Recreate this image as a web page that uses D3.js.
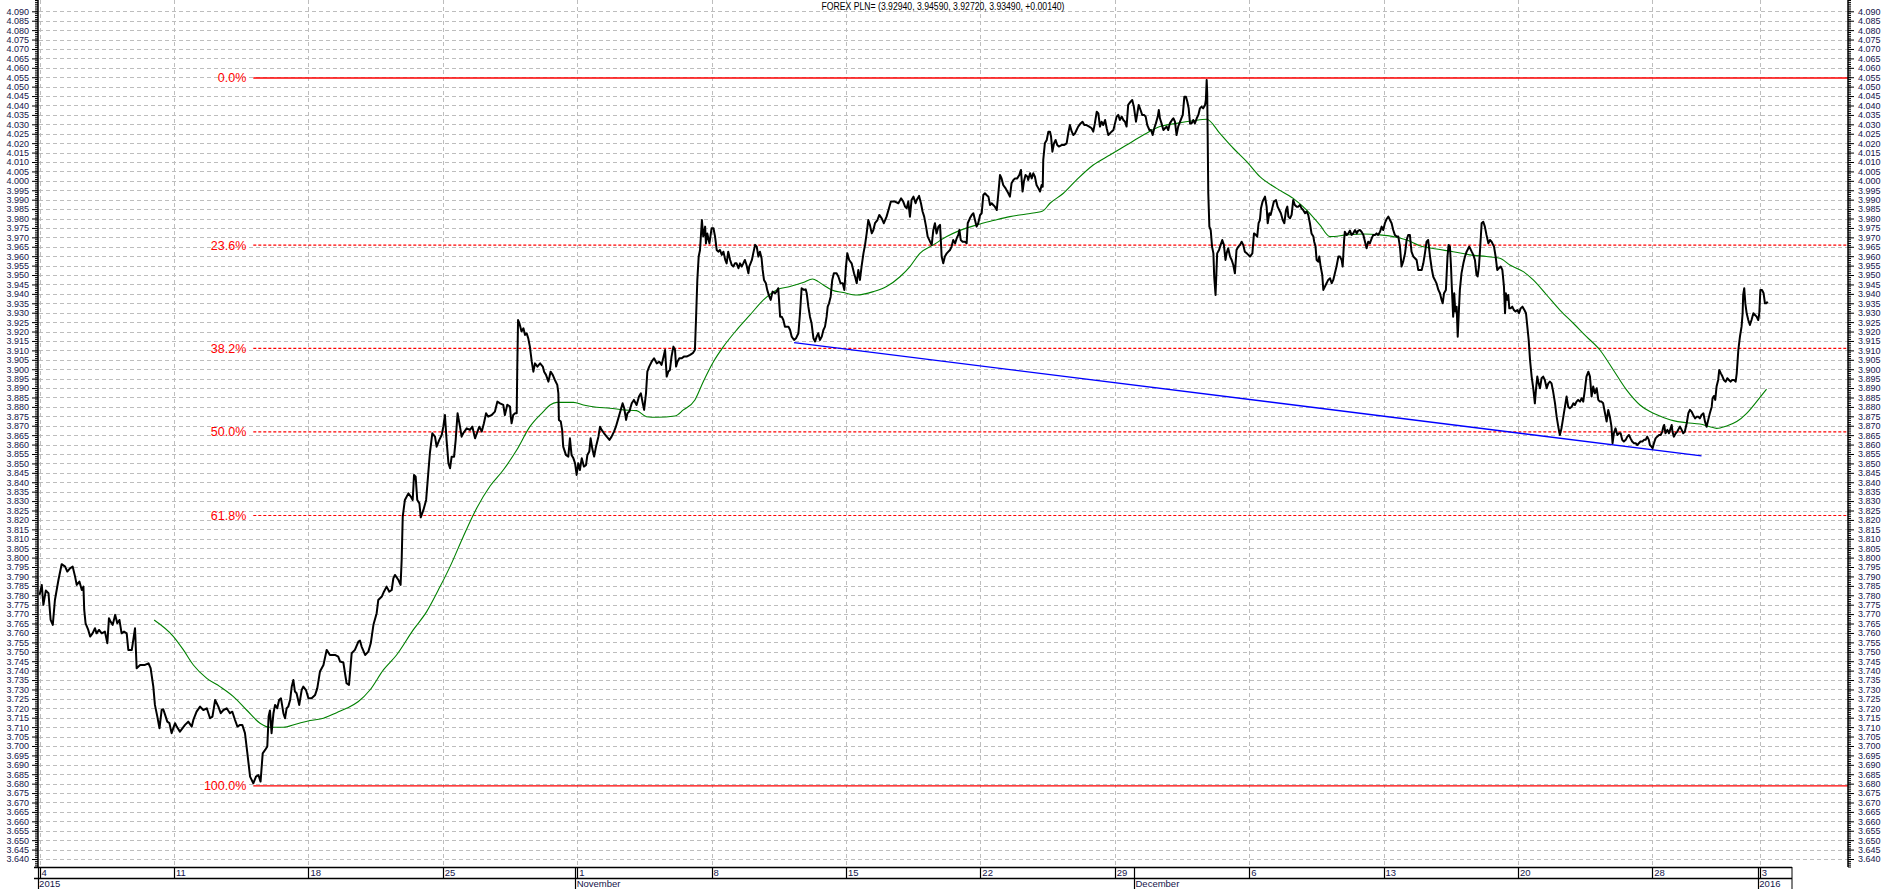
<!DOCTYPE html>
<html>
<head>
<meta charset="utf-8">
<script src="https://cdn.jsdelivr.net/npm/d3@7"></script>
<style>
  body { margin: 0; background: #fff; }
  svg { display: block; }
  text { font-family: "Liberation Sans", Arial, sans-serif; }
</style>
</head>
<body>
<svg id="chart"></svg>
<script>
var width = 1883,
    height = 889,
    plotLeft = 38,
    plotRight = 1848,
    plotBottom = 867,
    axisBoxRight = 1792;

var title = "FOREX PLN= (3.92940, 3.94590, 3.92720, 3.93490, +0.00140)";

// x unit = trading days counted from Sun 4 Oct 2015
var weekTicks = [0, 5, 10, 15, 20, 25, 30, 35, 40, 45, 50, 55, 60, 64];
var weekLabels = ["4", "11", "18", "25", "1", "8", "15", "22", "29", "6", "13", "20", "28", "3"];
var monthTicks = [0, 20, 40.79, 64];
var monthLabels = ["2015", "November", "December", "2016"];

var fibLevels = [0, 0.236, 0.382, 0.5, 0.618, 1];
var fibLabels = ["0.0%", "23.6%", "38.2%", "50.0%", "61.8%", "100.0%"];
var fibHigh = 4.0546, fibLow = 3.6788, fibStart = 7.95;

var trendLine = [[28.07, 3.9141], [61.83, 3.8540]];

var price = [
[0,3.7802],[0.08,3.7855],[0.14,3.7749],[0.23,3.7825],[0.33,3.7811],[0.41,3.7669],[0.49,3.7643],[0.57,3.7775],[0.70,3.7881],[0.82,3.7965],[0.95,3.7952],[1.03,3.7926],[1.13,3.7943],[1.23,3.7952],[1.32,3.7899],[1.38,3.7855],[1.48,3.7873],[1.57,3.7828],[1.63,3.7846],[1.66,3.7722],[1.71,3.7651],[1.81,3.7616],[1.88,3.7581],[1.97,3.7598],[2.06,3.7625],[2.12,3.7598],[2.21,3.7616],[2.31,3.7598],[2.43,3.7607],[2.52,3.7545],[2.58,3.7678],[2.64,3.7660],[2.72,3.7643],[2.81,3.7696],[2.89,3.7651],[2.97,3.7669],[3.05,3.7598],[3.14,3.7607],[3.24,3.7598],[3.30,3.7510],[3.43,3.7510],[3.55,3.7625],[3.61,3.7413],[3.74,3.7430],[3.92,3.7430],[4.05,3.7439],[4.13,3.7413],[4.23,3.7315],[4.29,3.7218],[4.38,3.7156],[4.46,3.7094],[4.54,3.7191],[4.60,3.7195],[4.67,3.7165],[4.75,3.7129],[4.83,3.7121],[4.91,3.7068],[5.04,3.7121],[5.10,3.7103],[5.22,3.7076],[5.41,3.7112],[5.53,3.7129],[5.66,3.7103],[5.72,3.7138],[5.84,3.7182],[5.97,3.7209],[6.09,3.7191],[6.22,3.7200],[6.34,3.7147],[6.43,3.7156],[6.53,3.7244],[6.65,3.7209],[6.74,3.7174],[6.84,3.7191],[6.96,3.7200],[7.08,3.7174],[7.17,3.7182],[7.27,3.7138],[7.36,3.7103],[7.46,3.7112],[7.54,3.7112],[7.64,3.7068],[7.73,3.6961],[7.83,3.6837],[7.95,3.6802],[8.05,3.6837],[8.14,3.6846],[8.22,3.6811],[8.30,3.6961],[8.39,3.6979],[8.47,3.6997],[8.52,3.7156],[8.57,3.7188],[8.63,3.7068],[8.70,3.7174],[8.76,3.7218],[8.84,3.7200],[8.91,3.7244],[8.98,3.7253],[9.07,3.7174],[9.13,3.7147],[9.19,3.7200],[9.25,3.7209],[9.32,3.7244],[9.38,3.7315],[9.44,3.7350],[9.50,3.7289],[9.56,3.7280],[9.66,3.7218],[9.75,3.7297],[9.81,3.7315],[9.91,3.7297],[10.00,3.7253],[10.12,3.7253],[10.25,3.7271],[10.33,3.7306],[10.43,3.7395],[10.56,3.7430],[10.68,3.7510],[10.80,3.7483],[10.99,3.7483],[11.11,3.7474],[11.18,3.7448],[11.30,3.7443],[11.42,3.7333],[11.51,3.7324],[11.61,3.7492],[11.73,3.7510],[11.86,3.7554],[11.92,3.7559],[11.98,3.7528],[12.11,3.7483],[12.23,3.7501],[12.32,3.7545],[12.42,3.7643],[12.54,3.7705],[12.60,3.7775],[12.73,3.7793],[12.81,3.7819],[12.91,3.7846],[13.01,3.7819],[13.10,3.7828],[13.16,3.7890],[13.22,3.7908],[13.35,3.7881],[13.43,3.7855],[13.47,3.7988],[13.51,3.8218],[13.59,3.8306],[13.72,3.8341],[13.81,3.8324],[13.88,3.8306],[13.93,3.8439],[13.99,3.8430],[14.05,3.8306],[14.13,3.8288],[14.18,3.8214],[14.28,3.8253],[14.38,3.8306],[14.46,3.8448],[14.52,3.8554],[14.61,3.8660],[14.71,3.8642],[14.77,3.8589],[14.87,3.8625],[14.96,3.8651],[15.02,3.8695],[15.08,3.8757],[15.14,3.8625],[15.21,3.8501],[15.27,3.8474],[15.33,3.8536],[15.42,3.8536],[15.48,3.8625],[15.55,3.8766],[15.64,3.8695],[15.70,3.8642],[15.76,3.8660],[15.89,3.8686],[16.01,3.8678],[16.10,3.8695],[16.20,3.8633],[16.29,3.8669],[16.36,3.8695],[16.45,3.8669],[16.53,3.8713],[16.61,3.8766],[16.69,3.8748],[16.82,3.8757],[16.94,3.8775],[17.03,3.8828],[17.13,3.8819],[17.25,3.8811],[17.31,3.8757],[17.40,3.8811],[17.50,3.8802],
[17.53,3.8748],[17.56,3.8713],[17.62,3.8757],[17.69,3.8766],[17.75,3.8766],[17.77,3.8996],[17.80,3.9261],[17.85,3.9244],[17.93,3.9200],[18.00,3.9217],[18.06,3.9182],[18.12,3.9191],[18.18,3.9164],[18.24,3.9120],[18.31,3.9040],[18.37,3.8987],[18.43,3.9031],[18.52,3.9014],[18.62,3.9031],[18.72,3.9014],[18.77,3.8987],[18.84,3.8970],[18.93,3.8934],[19.01,3.8987],[19.09,3.8970],[19.17,3.8943],[19.26,3.8917],[19.30,3.8872],[19.32,3.8731],[19.39,3.8722],[19.44,3.8678],[19.48,3.8589],[19.58,3.8545],[19.67,3.8536],[19.73,3.8633],[19.79,3.8545],[19.86,3.8527],[19.92,3.8501],[19.98,3.8439],[20.04,3.8501],[20.10,3.8465],[20.17,3.8527],[20.25,3.8483],[20.33,3.8492],[20.38,3.8545],[20.45,3.8563],[20.50,3.8633],[20.56,3.8580],[20.63,3.8536],[20.70,3.8589],[20.79,3.8642],[20.85,3.8695],[20.91,3.8678],[21.00,3.8660],[21.10,3.8642],[21.20,3.8625],[21.28,3.8642],[21.37,3.8669],[21.44,3.8695],[21.53,3.8739],[21.62,3.8784],[21.69,3.8819],[21.75,3.8793],[21.82,3.8731],[21.87,3.8766],[21.94,3.8775],[22.03,3.8819],[22.11,3.8837],[22.21,3.8810],[22.30,3.8855],[22.37,3.8872],[22.44,3.8819],[22.49,3.8784],[22.56,3.8872],[22.61,3.8987],[22.68,3.9014],[22.77,3.9040],[22.86,3.9058],[22.96,3.9031],[23.06,3.9040],[23.14,3.9023],[23.20,3.9058],[23.27,3.9102],[23.33,3.8961],[23.39,3.8987],[23.45,3.8996],[23.51,3.9067],[23.58,3.9120],[23.64,3.9102],[23.68,3.9014],[23.73,3.9040],[23.80,3.9058],[23.89,3.9058],[23.97,3.9067],[24.07,3.9067],[24.20,3.9076],[24.30,3.9085],[24.38,3.9102],[24.42,3.9261],[24.47,3.9474],[24.52,3.9598],[24.57,3.9633],[24.64,3.9792],[24.69,3.9704],[24.76,3.9757],[24.79,3.9668],[24.84,3.9721],[24.92,3.9668],[25.00,3.9748],[25.07,3.9748],[25.13,3.9704],[25.19,3.9633],[25.25,3.9624],[25.31,3.9633],[25.38,3.9607],[25.44,3.9624],[25.51,3.9580],[25.56,3.9562],[25.62,3.9624],[25.69,3.9580],[25.75,3.9553],[25.81,3.9545],[25.87,3.9562],[25.93,3.9562],[26.00,3.9536],[26.06,3.9562],[26.12,3.9545],[26.18,3.9562],[26.24,3.9580],[26.30,3.9553],[26.37,3.9509],[26.40,3.9545],[26.45,3.9562],[26.50,3.9580],[26.55,3.9615],[26.62,3.9660],[26.68,3.9651],[26.74,3.9598],[26.80,3.9624],[26.86,3.9589],[26.90,3.9527],[26.95,3.9474],[27.02,3.9456],[27.07,3.9421],[27.15,3.9385],[27.20,3.9368],[27.27,3.9412],[27.36,3.9403],[27.42,3.9412],[27.48,3.9430],[27.55,3.9279],[27.61,3.9279],[27.67,3.9261],[27.73,3.9226],[27.86,3.9226],[27.92,3.9208],[27.98,3.9173],[28.07,3.9155],[28.14,3.9164],[28.23,3.9191],[28.29,3.9297],[28.35,3.9430],[28.44,3.9421],[28.50,3.9424],[28.54,3.9403],[28.60,3.9332],[28.66,3.9279],[28.72,3.9244],[28.79,3.9164],[28.85,3.9147],[28.91,3.9173],[28.97,3.9191],[29.03,3.9155],[29.10,3.9173],[29.16,3.9208],[29.22,3.9226],[29.28,3.9279],[29.32,3.9332],[29.37,3.9350],[29.43,3.9385],[29.49,3.9474],[29.55,3.9509],[29.65,3.9509],[29.72,3.9491],[29.80,3.9456],[29.88,3.9456],[29.94,3.9421],[30.00,3.9545],[30.05,3.9615],[30.12,3.9580],[30.21,3.9562],[30.30,3.9509],[30.34,3.9491],[30.40,3.9456],[30.46,3.9527],[30.52,3.9474],[30.58,3.9545],[30.65,3.9615],[30.71,3.9660],[30.77,3.9721],[30.83,3.9792],[30.89,3.9766],[30.96,3.9721],[31.02,3.9739],[31.08,3.9775],[31.17,3.9792],[31.24,3.9819],[31.33,3.9801],[31.41,3.9775],[31.51,3.9810],[31.60,3.9854],[31.67,3.9890],[31.82,3.9890],[31.95,3.9881],[32.05,3.9907],[32.13,3.9890],[32.20,3.9863],[32.26,3.9854],[32.32,3.9890],[32.38,3.9810],[32.44,3.9898],[32.51,3.9916],[32.59,3.9881],[32.63,3.9898],[32.72,3.9920],[32.79,3.9881],[32.85,3.9837],[32.91,3.9810],[32.98,3.9757],[33.04,3.9704],[33.13,3.9677],[33.19,3.9660],[33.25,3.9739],[33.31,3.9775],[33.37,3.9721],[33.44,3.9757],[33.50,3.9766],[33.56,3.9598],[33.62,3.9562],[33.68,3.9598],[33.75,3.9615],[33.81,3.9624],[33.87,3.9633],[33.93,3.9651],[33.99,3.9686],[34.06,3.9668],[34.12,3.9695],[34.18,3.9713],[34.22,3.9739],[34.27,3.9686],[34.34,3.9677],[34.43,3.9677],[34.49,3.9668],[34.53,3.9775],[34.61,3.9801],
[34.68,3.9819],[34.74,3.9828],[34.80,3.9792],[34.86,3.9757],[34.92,3.9775],[34.99,3.9819],[35.05,3.9828],[35.11,3.9925],[35.17,3.9934],[35.23,3.9925],[35.30,3.9916],[35.36,3.9872],[35.42,3.9881],[35.48,3.9872],[35.54,3.9863],[35.61,3.9845],[35.67,3.9934],[35.73,4.0031],[35.79,4.0013],[35.85,3.9978],[35.94,3.9960],[36.04,3.9934],[36.10,3.9916],[36.16,3.9987],[36.23,4.0005],[36.29,4.0013],[36.37,4.0013],[36.45,4.0031],[36.51,4.0058],[36.57,3.9943],[36.62,3.9996],[36.68,4.0031],[36.75,4.0022],[36.78,4.0005],[36.85,4.0040],[36.91,4.0013],[36.97,4.0040],[37.03,4.0022],[37.09,3.9978],[37.16,3.9960],[37.22,3.9943],[37.28,3.9978],[37.32,3.9969],[37.34,4.0111],[37.40,4.0199],[37.47,4.0217],[37.53,4.0261],[37.59,4.0261],[37.63,4.0235],[37.68,4.0155],[37.74,4.0199],[37.80,4.0217],[37.86,4.0190],[37.92,4.0182],[38.02,4.0190],[38.11,4.0190],[38.21,4.0199],[38.27,4.0252],[38.33,4.0296],[38.40,4.0261],[38.46,4.0243],[38.52,4.0252],[38.58,4.0270],[38.64,4.0288],[38.73,4.0305],[38.80,4.0314],[38.87,4.0296],[38.95,4.0296],[39.05,4.0288],[39.14,4.0279],[39.20,4.0261],[39.26,4.0305],[39.33,4.0367],[39.39,4.0358],[39.45,4.0288],[39.51,4.0314],[39.57,4.0296],[39.64,4.0323],[39.70,4.0279],[39.76,4.0243],[39.82,4.0252],[39.88,4.0261],[39.95,4.0270],[40.01,4.0305],[40.07,4.0341],[40.13,4.0350],[40.19,4.0323],[40.26,4.0341],[40.32,4.0323],[40.38,4.0314],[40.44,4.0288],[40.50,4.0403],[40.59,4.0420],[40.65,4.0429],[40.71,4.0394],[40.79,4.0314],[40.84,4.0358],[40.89,4.0403],[40.96,4.0376],[41.02,4.0350],[41.09,4.0350],[41.15,4.0341],[41.21,4.0296],[41.29,4.0270],[41.35,4.0270],[41.41,4.0243],[41.47,4.0279],[41.53,4.0305],[41.60,4.0341],[41.64,4.0376],[41.68,4.0332],[41.74,4.0305],[41.81,4.0270],[41.87,4.0279],[41.93,4.0288],[41.99,4.0270],[42.05,4.0305],[42.13,4.0323],[42.18,4.0332],[42.24,4.0314],[42.30,4.0243],[42.36,4.0288],[42.43,4.0314],[42.53,4.0350],[42.59,4.0447],[42.65,4.0447],[42.70,4.0420],[42.75,4.0385],[42.80,4.0305],[42.86,4.0305],[42.92,4.0323],[42.98,4.0305],[43.05,4.0332],[43.11,4.0350],[43.17,4.0385],[43.23,4.0394],[43.29,4.0385],[43.36,4.0403],[43.39,4.0429],[43.42,4.0535],[43.44,4.0465],[43.48,3.9934],[43.52,3.9757],[43.57,3.9739],[43.62,3.9651],[43.67,3.9615],[43.70,3.9491],[43.75,3.9394],[43.81,3.9615],[43.88,3.9633],[43.94,3.9660],[44.00,3.9686],[44.06,3.9660],[44.12,3.9580],[44.16,3.9615],[44.22,3.9642],[44.29,3.9598],[44.35,3.9580],[44.41,3.9553],[44.47,3.9509],[44.53,3.9633],[44.60,3.9651],[44.66,3.9660],[44.72,3.9677],[44.78,3.9660],[44.84,3.9624],[44.91,3.9615],[44.97,3.9607],[45.03,3.9598],[45.12,3.9615],[45.18,3.9721],[45.25,3.9713],[45.30,3.9704],[45.35,3.9775],[45.40,3.9792],[45.44,3.9854],[45.50,3.9890],[45.59,3.9916],[45.65,3.9863],[45.69,3.9775],[45.75,3.9828],[45.80,3.9819],[45.86,3.9854],[45.92,3.9890],[46.00,3.9898],[46.06,3.9863],[46.12,3.9845],[46.18,3.9828],[46.25,3.9792],[46.31,3.9775],[46.37,3.9845],[46.42,3.9863],[46.46,3.9810],[46.52,3.9801],[46.58,3.9819],[46.64,3.9898],[46.70,3.9872],[46.77,3.9863],[46.83,3.9863],[46.89,3.9872],[46.95,3.9854],[47.01,3.9845],[47.08,3.9828],[47.14,3.9837],[47.20,3.9819],[47.26,3.9775],[47.32,3.9721],[47.39,3.9704],[47.42,3.9677],[47.47,3.9651],[47.51,3.9580],[47.57,3.9571],[47.61,3.9598],[47.66,3.9545],[47.72,3.9500],[47.76,3.9421],[47.82,3.9439],[47.88,3.9456],[47.94,3.9474],[48.01,3.9483],[48.07,3.9456],[48.13,3.9474],[48.19,3.9509],[48.25,3.9545],[48.32,3.9598],[48.38,3.9598],[48.44,3.9580],[48.48,3.9545],[48.53,3.9677],[48.56,3.9730],[48.63,3.9713],[48.69,3.9721],[48.75,3.9736],[48.81,3.9713],[48.87,3.9721],[48.94,3.9739],[49.00,3.9721],[49.06,3.9736],[49.12,3.9739],[49.18,3.9730],[49.25,3.9713],[49.31,3.9677],[49.37,3.9642],[49.43,3.9677],[49.49,3.9668],[49.56,3.9695],[49.62,3.9713],[49.68,3.9713],[49.74,3.9721],[49.80,3.9713],[49.87,3.9730],[49.93,3.9757],[49.99,3.9739],[50.05,3.9775],[50.11,3.9796],[50.18,3.9810],[50.24,3.9792],[50.30,3.9775],[50.36,3.9739],[50.42,3.9713],[50.49,3.9704],[50.55,3.9704],[50.61,3.9651],[50.67,3.9545],[50.73,3.9571],[50.80,3.9615],[50.86,3.9686],[50.92,3.9713],[50.98,3.9713],[51.04,3.9624],[51.11,3.9598],[51.17,3.9589],[51.23,3.9580],[51.29,3.9527],[51.42,3.9527],[51.48,3.9562],[51.54,3.9615],[51.60,3.9677],[51.66,3.9686],[51.73,3.9598],[51.79,3.9536],[51.85,3.9491],[51.91,3.9474],[51.97,3.9456],[52.04,3.9421],[52.10,3.9403],
[52.16,3.9368],[52.20,3.9350],[52.25,3.9403],[52.32,3.9421],[52.38,3.9598],[52.42,3.9660],[52.47,3.9651],[52.51,3.9545],[52.54,3.9438],[52.59,3.9279],[52.63,3.9403],[52.67,3.9306],[52.72,3.9332],[52.76,3.9173],[52.81,3.9332],[52.84,3.9421],[52.90,3.9509],[52.97,3.9562],[53.03,3.9598],[53.09,3.9624],[53.19,3.9651],[53.28,3.9624],[53.34,3.9607],[53.40,3.9580],[53.46,3.9500],[53.50,3.9492],[53.55,3.9545],[53.59,3.9633],[53.65,3.9775],[53.71,3.9783],[53.77,3.9757],[53.83,3.9713],[53.90,3.9668],[53.96,3.9686],[54.02,3.9677],[54.11,3.9651],[54.17,3.9598],[54.23,3.9527],[54.29,3.9536],[54.36,3.9545],[54.42,3.9527],[54.48,3.9438],[54.52,3.9297],[54.55,3.9403],[54.60,3.9368],[54.64,3.9394],[54.68,3.9323],[54.73,3.9323],[54.79,3.9332],[54.85,3.9314],[54.91,3.9306],[54.98,3.9314],[55.04,3.9297],[55.10,3.9323],[55.17,3.9332],[55.24,3.9314],[55.30,3.9297],[55.35,3.9226],[55.40,3.9155],[55.45,3.9049],[55.51,3.8961],[55.57,3.8899],[55.63,3.8819],[55.67,3.8890],[55.72,3.8961],[55.77,3.8925],[55.82,3.8899],[55.88,3.8952],[55.94,3.8961],[56.00,3.8943],[56.07,3.8899],[56.13,3.8925],[56.19,3.8934],[56.25,3.8925],[56.31,3.8881],[56.38,3.8819],[56.44,3.8748],[56.50,3.8695],[56.56,3.8651],[56.62,3.8686],[56.69,3.8748],[56.75,3.8801],[56.81,3.8855],[56.87,3.8801],[56.93,3.8793],[57.00,3.8801],[57.06,3.8819],[57.12,3.8810],[57.18,3.8828],[57.24,3.8837],[57.31,3.8828],[57.37,3.8846],[57.43,3.8828],[57.49,3.8890],[57.55,3.8961],[57.62,3.8987],[57.68,3.8961],[57.74,3.8855],[57.80,3.8908],[57.86,3.8872],[57.93,3.8899],[57.99,3.8837],[58.05,3.8828],[58.11,3.8828],[58.17,3.8819],[58.24,3.8766],[58.30,3.8722],[58.36,3.8784],[58.42,3.8748],[58.48,3.8695],[58.52,3.8607],[58.57,3.8660],[58.63,3.8686],[58.70,3.8651],[58.76,3.8660],[58.82,3.8660],[58.88,3.8625],[58.94,3.8616],[59.01,3.8625],[59.07,3.8642],[59.13,3.8651],[59.19,3.8633],[59.25,3.8616],[59.32,3.8607],[59.38,3.8607],[59.44,3.8598],[59.50,3.8607],[59.56,3.8616],[59.63,3.8616],[59.69,3.8625],[59.75,3.8625],[59.81,3.8642],[59.87,3.8625],[59.91,3.8598],[59.97,3.8589],[60.01,3.8580],[60.06,3.8607],[60.12,3.8633],[60.18,3.8642],[60.25,3.8651],[60.31,3.8651],[60.37,3.8669],[60.41,3.8695],[60.44,3.8704],[60.49,3.8660],[60.56,3.8678],[60.62,3.8660],[60.68,3.8686],[60.72,3.8704],[60.75,3.8669],[60.80,3.8642],[60.87,3.8660],[60.93,3.8669],[60.99,3.8686],[61.03,3.8695],[61.09,3.8678],[61.15,3.8660],[61.21,3.8669],[61.28,3.8713],[61.34,3.8766],[61.40,3.8784],[61.46,3.8775],[61.52,3.8757],[61.59,3.8739],[61.65,3.8748],[61.71,3.8748],[61.77,3.8739],[61.83,3.8757],[61.90,3.8766],[61.96,3.8722],[62.02,3.8695],[62.08,3.8731],[62.14,3.8766],[62.21,3.8801],[62.24,3.8846],[62.29,3.8858],[62.34,3.8837],[62.39,3.8908],[62.45,3.8943],[62.49,3.8996],[62.55,3.8978],[62.61,3.8961],[62.66,3.8943],[62.73,3.8934],[62.79,3.8952],[62.85,3.8943],[62.91,3.8934],[62.97,3.8943],[63.04,3.8943],[63.10,3.8934],[63.14,3.8978],[63.20,3.9102],[63.26,3.9173],[63.32,3.9226],[63.36,3.9297],[63.38,3.9394],[63.42,3.9430],[63.46,3.9350],[63.51,3.9297],[63.57,3.9261],[63.63,3.9235],[63.69,3.9261],[63.76,3.9297],[63.82,3.9288],[63.88,3.9279],[63.94,3.9261],[63.98,3.9297],[64.02,3.9421],[64.08,3.9421],[64.14,3.9403],[64.19,3.9350],[64.25,3.9350],[64.29,3.9359]
];

var movingAvg = [
[4.26,3.7669],[4.98,3.7581],[5.35,3.7510],[5.72,3.7430],[6.22,3.7359],[6.71,3.7315],[7.21,3.7262],[7.70,3.7191],[8.20,3.7121],[8.57,3.7099],[9.07,3.7099],[9.56,3.7117],[10.06,3.7135],[10.56,3.7147],[11.05,3.7177],[11.42,3.7200],[11.86,3.7236],[12.29,3.7297],[12.79,3.7404],[13.28,3.7483],[13.90,3.7616],[14.40,3.7713],[14.90,3.7846],[15.27,3.7952],[15.76,3.8111],[16.26,3.8262],[16.76,3.8380],[17.25,3.8465],[17.75,3.8571],[18.24,3.8695],[18.74,3.8775],[18.99,3.8810],[19.24,3.8824],[19.86,3.8824],[20.23,3.8810],[20.72,3.8798],[21.22,3.8793],[21.72,3.8784],[22.21,3.8780],[22.58,3.8748],[22.96,3.8745],[23.64,3.8752],[23.95,3.8784],[24.38,3.8837],[24.69,3.8934],[25.07,3.9040],[25.44,3.9120],[25.93,3.9208],[26.43,3.9288],[26.93,3.9368],[27.42,3.9421],[27.92,3.9439],[28.41,3.9460],[28.76,3.9479],[28.97,3.9465],[29.16,3.9447],[29.47,3.9421],[29.90,3.9407],[30.40,3.9394],[31.02,3.9412],[31.51,3.9439],[32.01,3.9491],[32.38,3.9545],[32.75,3.9615],[33.25,3.9660],[33.75,3.9704],[34.24,3.9737],[34.86,3.9766],[35.48,3.9789],[36.10,3.9810],[36.72,3.9824],[37.32,3.9840],[37.59,3.9881],[38.09,3.9934],[38.58,4.0005],[39.20,4.0084],[39.82,4.0137],[40.44,4.0190],[41.06,4.0243],[41.68,4.0288],[42.30,4.0305],[42.92,4.0319],[43.42,4.0327],[43.91,4.0252],[44.41,4.0173],[44.91,4.0102],[45.40,4.0022],[46.02,3.9960],[46.64,3.9907],[47.14,3.9845],[47.63,3.9766],[48.01,3.9704],[48.63,3.9713],[49.25,3.9718],[49.87,3.9713],[50.36,3.9704],[50.86,3.9686],[51.35,3.9655],[51.97,3.9638],[52.59,3.9624],[53.21,3.9607],[53.83,3.9598],[54.33,3.9589],[54.70,3.9553],[55.20,3.9518],[55.57,3.9474],[56.07,3.9394],[56.56,3.9314],[57.06,3.9244],[57.55,3.9173],[58.05,3.9102],[58.55,3.8996],[59.04,3.8890],[59.54,3.8810],[59.91,3.8775],[60.28,3.8752],[60.78,3.8727],[61.28,3.8716],[61.77,3.8709],[62.14,3.8695],[62.39,3.8686],[62.76,3.8699],[63.14,3.8722],[63.51,3.8766],[63.88,3.8828],[64.25,3.8894]
];

var svg = d3.select('#chart')
    .attr('width', width)
    .attr('height', height);

var x = d3.scaleLinear().domain([-0.06, 67.28]).range([plotLeft, plotRight]);
var y = d3.scaleLinear().domain([3.640, 4.090]).range([859, 11.3]);

var gridValues = d3.range(0, 91).map(function(i) { return +(3.640 + i * 0.005).toFixed(3); });
var minorValues = d3.range(0, 461).map(function(i) { return +(3.636 + i * 0.001).toFixed(3); });

svg.append('clipPath').attr('id', 'plot-clip')
  .append('rect')
    .attr('x', plotLeft).attr('y', 0)
    .attr('width', plotRight - plotLeft).attr('height', plotBottom);

// grid
var grid = svg.append('g').attr('class', 'grid');
grid.selectAll('.hgrid')
    .data(gridValues)
    .enter().append('line')
    .attr('x1', plotLeft + 1).attr('x2', plotRight)
    .attr('y1', function(d) { return Math.round(y(d)) + 0.5; })
    .attr('y2', function(d) { return Math.round(y(d)) + 0.5; })
    .attr('stroke', '#bdbdbd')
    .attr('stroke-dasharray', '4,3');
grid.selectAll('.vgrid')
    .data(weekTicks)
    .enter().append('line')
    .attr('x1', function(d) { return Math.round(x(d)) + 0.5; })
    .attr('x2', function(d) { return Math.round(x(d)) + 0.5; })
    .attr('y1', 0).attr('y2', plotBottom)
    .attr('stroke', '#bdbdbd')
    .attr('stroke-dasharray', '4,3');

// title
svg.append('text')
    .attr('x', (plotLeft + plotRight) / 2)
    .attr('y', 10)
    .attr('text-anchor', 'middle')
    .attr('font-size', 10)
    .attr('textLength', 243)
    .attr('lengthAdjust', 'spacingAndGlyphs')
    .attr('fill', '#000')
    .text(title);

// fibonacci levels
var fib = svg.append('g').attr('class', 'fib');
fibLevels.forEach(function(lv, i) {
  var v = fibHigh - lv * (fibHigh - fibLow);
  var solid = (lv === 0 || lv === 1);
  fib.append('line')
      .attr('x1', x(fibStart)).attr('x2', plotRight)
      .attr('y1', y(v)).attr('y2', y(v))
      .attr('stroke', '#ff0000')
      .attr('stroke-width', solid ? 1.3 : 1.2)
      .attr('stroke-dasharray', solid ? null : '3,2');
  fib.append('text')
      .attr('x', x(fibStart) - 7)
      .attr('y', y(v) + 4.5)
      .attr('text-anchor', 'end')
      .attr('font-size', 12.5)
      .attr('fill', '#ff0000')
      .text(fibLabels[i]);
});

var lineGen = d3.line()
    .x(function(d) { return x(d[0]); })
    .y(function(d) { return y(d[1]); });

var marks = svg.append('g').attr('clip-path', 'url(#plot-clip)');

marks.append('path')
    .datum(trendLine)
    .attr('d', lineGen)
    .attr('fill', 'none')
    .attr('stroke', '#0000ff')
    .attr('stroke-width', 1.4);

marks.append('path')
    .datum(movingAvg)
    .attr('d', lineGen.curve(d3.curveMonotoneX))
    .attr('fill', 'none')
    .attr('stroke', '#008000')
    .attr('stroke-width', 1.1);

marks.append('path')
    .datum(price)
    .attr('d', lineGen.curve(d3.curveLinear))
    .attr('fill', 'none')
    .attr('stroke', '#000')
    .attr('stroke-width', 2)
    .attr('stroke-linejoin', 'round');

// y axes
var labelColor = '#14144a';
function yAxis(side) {
  var left = side === 'left';
  var xPos = left ? plotLeft : plotRight;
  var g = svg.append('g').attr('transform', 'translate(' + xPos + ',0)');
  var minor = (left ? d3.axisLeft(y) : d3.axisRight(y))
      .tickValues(minorValues).tickSize(3).tickFormat('');
  var major = (left ? d3.axisLeft(y) : d3.axisRight(y))
      .tickValues(gridValues).tickSize(6).tickPadding(left ? 3 : 4)
      .tickFormat(d3.format('.3f'));
  g.append('g').call(minor).call(function(s) { s.select('.domain').remove(); });
  g.append('g').call(major).call(function(s) {
    s.select('.domain').remove();
    s.selectAll('text')
      .attr('font-size', 9)
      .attr('font-family', '"Liberation Sans", Arial, sans-serif')
      .attr('fill', labelColor);
  });
  g.selectAll('line').attr('stroke', '#000');
  g.append('line')
      .attr('x1', 0).attr('x2', 0)
      .attr('y1', 0).attr('y2', plotBottom)
      .attr('stroke', '#000').attr('stroke-width', 1.5);
}
yAxis('left');
yAxis('right');

// x axis boxes
var xa = svg.append('g').attr('class', 'x-axis');
[plotBottom, 878].forEach(function(yy) {
  xa.append('line')
      .attr('x1', plotLeft - 4).attr('x2', axisBoxRight)
      .attr('y1', yy + 0.5).attr('y2', yy + 0.5)
      .attr('stroke', '#000').attr('stroke-width', 1.5);
});
xa.append('line')
    .attr('x1', axisBoxRight).attr('x2', axisBoxRight)
    .attr('y1', plotBottom).attr('y2', height)
    .attr('stroke', '#000');
xa.selectAll('.wk')
    .data(weekTicks)
    .enter().append('line')
    .attr('x1', function(d) { return Math.round(x(d)) + 0.5; })
    .attr('x2', function(d) { return Math.round(x(d)) + 0.5; })
    .attr('y1', plotBottom).attr('y2', 878)
    .attr('stroke', '#000').attr('stroke-width', 1.2);
xa.selectAll('.wkl')
    .data(weekTicks)
    .enter().append('text')
    .attr('x', function(d) { return x(d) + 2; })
    .attr('y', 876)
    .attr('font-size', 9.5)
    .attr('fill', labelColor)
    .text(function(d, i) { return weekLabels[i]; });
xa.selectAll('.mo')
    .data(monthTicks)
    .enter().append('line')
    .attr('x1', function(d) { return Math.round(x(d)) - 1.5; })
    .attr('x2', function(d) { return Math.round(x(d)) - 1.5; })
    .attr('y1', plotBottom).attr('y2', height)
    .attr('stroke', '#000').attr('stroke-width', 1.2);
xa.selectAll('.mol')
    .data(monthTicks)
    .enter().append('text')
    .attr('x', function(d) { return x(d) - 0.5; })
    .attr('y', 887)
    .attr('font-size', 9.5)
    .attr('fill', labelColor)
    .text(function(d, i) { return monthLabels[i]; });
</script>
</body>
</html>
